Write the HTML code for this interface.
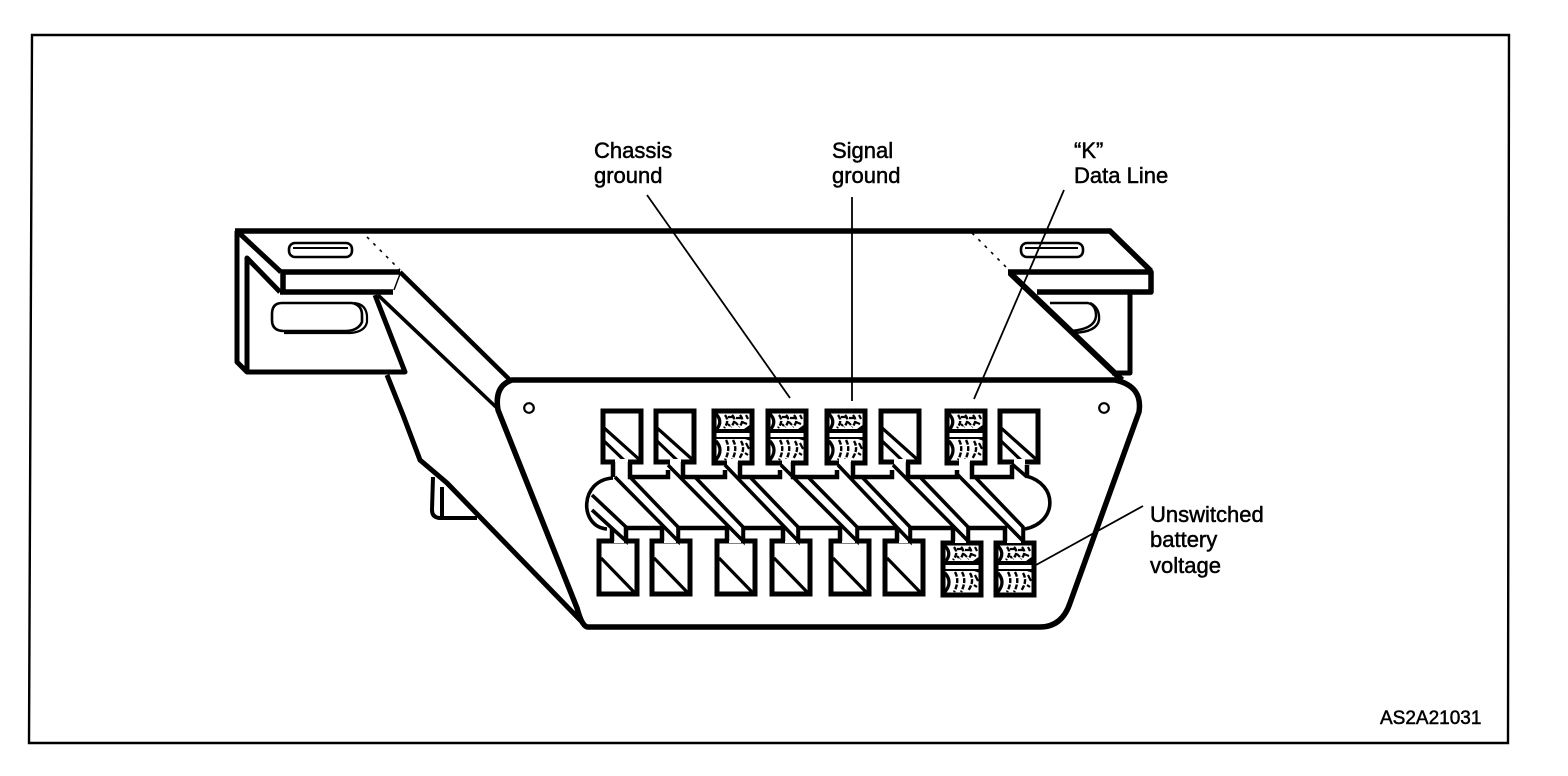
<!DOCTYPE html>
<html>
<head>
<meta charset="utf-8">
<style>
html,body{margin:0;padding:0;background:#fff}
svg{display:block}
text{font-family:"Liberation Sans",Arial,sans-serif;font-size:22px;fill:#000;stroke:#000;stroke-width:.5}
</style>
</head>
<body>
<svg width="1568" height="776" viewBox="0 0 1568 776" xmlns="http://www.w3.org/2000/svg">
<defs>
<g id="hatched">
  <rect x="2" y="2" width="38" height="52" fill="#fff" stroke="#000" stroke-width="5"/>
  <path d="M3,20H32L39,15V24H3ZM3,28H39V32L33,30H3Z" fill="#000"/>
  <path d="M4,5Q11,12 5,20M4,32Q12,41 4,51" fill="none" stroke="#000" stroke-width="3.2"/>
  <path d="M13,6Q18,12 12,19M20,6Q25,11 19,18M28,6Q33,12 27,18M14,31Q19,40 13,51M21,31Q26,40 20,51M29,32Q34,40 27,50" fill="none" stroke="#000" stroke-width="2.4" stroke-dasharray="5 1.5"/>
  <path d="M16,8H21M24,9H30M30,13L35,15M34,6L36,10M34,34L37,40M33,44L36,46M23,13L26,16M16,15L18,17" fill="none" stroke="#000" stroke-width="2.2"/>
</g>
<g id="plainTop">
  <rect x="2" y="2" width="38" height="51" fill="#fff" stroke="#000" stroke-width="5"/>
  <path d="M2,18L40,52M2,31L27,55" fill="none" stroke="#000" stroke-width="3.2"/>
</g>
<g id="plainBot">
  <rect x="2" y="2" width="38" height="53" fill="#fff" stroke="#000" stroke-width="5"/>
  <path d="M4,19L38,54" fill="none" stroke="#000" stroke-width="3.2"/>
</g>
</defs>

<!-- frame -->
<path d="M32,35H1509L1508,743H29Z" fill="none" stroke="#000" stroke-width="2.4"/>

<!-- left bracket -->
<g fill="none" stroke="#000" stroke-linejoin="round">
  <path d="M237,231V362L247,372H405L375,295" stroke-width="5" fill="#fff"/>
  <path d="M247,372V258L280,292" stroke-width="5"/>
  <path d="M238,232L281,272" stroke-width="5"/>
  <rect x="289" y="243" width="63" height="14" rx="6" stroke-width="2.6"/>
  <path d="M293,248H348" stroke-width="2"/>
  <path d="M282,303H352Q362,305 362,315V322Q358,331 345,331H284Q272,331 272,320V314Q272,303 282,303Z" stroke-width="2.6"/>
  <path d="M354,303Q366,304 367,316V322Q365,332 350,333H284" stroke-width="2.2"/>
</g>
<!-- body left outline -->
<path d="M387,375L403,415L420,460L447,483L583,623" fill="none" stroke="#000" stroke-width="5"/>
<path d="M433,477L432,510Q432,517 439,518H477M442,487V517" fill="none" stroke="#000" stroke-width="4"/>
<!-- top plate and long lines -->
<path d="M235,231H1110L1151,271" fill="none" stroke="#000" stroke-width="5.5"/>
<path d="M378,295L497,408" fill="none" stroke="#000" stroke-width="3.6"/>
<path d="M400,272L510,380" fill="none" stroke="#000" stroke-width="4.5"/>
<path d="M281,272H400M283,272V291M280,292H393" fill="none" stroke="#000" stroke-width="5.5"/>
<path d="M400,274L394,290" fill="none" stroke="#000" stroke-width="1.5"/>
<path d="M367,237L400,270" fill="none" stroke="#000" stroke-width="1.6" stroke-dasharray="3 6"/>
<path d="M972,233L1007,268" fill="none" stroke="#000" stroke-width="1.6" stroke-dasharray="3 6"/>

<!-- right bracket -->
<g fill="none" stroke="#000" stroke-linejoin="round">
  <rect x="1021" y="243" width="62" height="14" rx="6" stroke-width="2.6"/>
  <path d="M1025,248H1078" stroke-width="2"/>
  <path d="M1050,303H1088Q1096,305 1096,316Q1095,329 1071,331" stroke-width="2.4"/>
  <path d="M1090,303Q1100,308 1099,320Q1097,332 1073,333" stroke-width="2.4"/>
  <path d="M1008,272H1151V292H1037" stroke-width="5.5"/>
  <path d="M1130,293V373H1112" stroke-width="5"/>
  <path d="M1010,273L1122,380" stroke-width="6"/>
</g>

<!-- front face -->
<path d="M512,380H1115Q1143,386 1139,412L1070,603Q1062,627 1040,627H588Q582,627 577,608L498,410Q494,386 512,380Z" fill="#fff" stroke="#000" stroke-width="5.5" stroke-linejoin="round"/>
<circle cx="529" cy="408" r="4.8" fill="#fff" stroke="#000" stroke-width="2.2"/>
<circle cx="1104" cy="408" r="4.8" fill="#fff" stroke="#000" stroke-width="2.2"/>

<!-- top sockets -->
<use href="#plainTop" x="601" y="409"/>
<use href="#plainTop" x="654" y="409"/>
<use href="#hatched" x="712" y="409"/>
<use href="#hatched" x="766" y="409"/>
<use href="#hatched" x="825" y="409"/>
<use href="#plainTop" x="879" y="409"/>
<use href="#hatched" x="945" y="409"/>
<use href="#plainTop" x="998" y="409"/>
<!-- bottom sockets -->
<use href="#plainBot" x="597" y="539"/>
<use href="#plainBot" x="650" y="539"/>
<use href="#plainBot" x="715" y="539"/>
<use href="#plainBot" x="770" y="539"/>
<use href="#plainBot" x="829" y="539"/>
<use href="#plainBot" x="883" y="539"/>
<use href="#hatched" x="941" y="541"/>
<use href="#hatched" x="994" y="541"/>

<!-- channel -->
<g fill="none" stroke="#000">
  <!-- socket openings at necks -->
  <g fill="#fff" stroke="none">
    <rect x="615" y="459" width="13" height="18"/>
    <rect x="670" y="459" width="11" height="18"/>
    <rect x="727" y="459" width="11" height="18"/>
    <rect x="782" y="459" width="9" height="18"/>
    <rect x="839" y="459" width="12" height="18"/>
    <rect x="894" y="459" width="12" height="18"/>
    <rect x="959" y="459" width="11" height="18"/>
    <rect x="1014" y="459" width="11" height="18"/>
    <rect x="614" y="528" width="10" height="15"/>
    <rect x="664" y="528" width="12" height="15"/>
    <rect x="729" y="528" width="12" height="15"/>
    <rect x="785" y="528" width="11" height="15"/>
    <rect x="842" y="528" width="13" height="15"/>
    <rect x="899" y="528" width="9" height="15"/>
    <rect x="955" y="528" width="11" height="15"/>
    <rect x="1007" y="528" width="14" height="15"/>
  </g>
  <!-- rounded ends -->
  <path d="M613,478C579,480 579,527 607,529" stroke-width="3.6"/>
  <path d="M1026,476C1058,484 1058,522 1025,529" stroke-width="3.6"/>
  <!-- lower rail -->
  <path d="M612,541V528M626,541V528H662V541M678,541V528H727V541M743,541V528H783V541M798,541V528H840V541M857,541V528H897V541M910,541V528H953V541M968,541V528H1005V541M1023,541V528" stroke-width="4.5"/>
  <!-- blades -->
  <g stroke-width="3.6" fill="#fff">
    <path d="M592,510L626,541V527L592,495" fill="none"/>
    <path d="M615,477L678,541V527L630,477"/>
    <path d="M668,465L743,541V527L695,477"/>
    <path d="M725,465L798,541V527L750,477"/>
    <path d="M781,465L857,541V527L808,477"/>
    <path d="M838,465L910,541V527L862,477"/>
    <path d="M893,465L968,541V527L920,477"/>
    <path d="M958,475L1023,541V527L975,477"/>
    <path d="M1012,464L1027,477" fill="none"/>
  </g>
  <!-- top rail -->
  <path d="M613,462V477M630,462V477H668V470M683,462V477H725V470M740,462V477H780V470M793,462V477H837V470M853,462V477H892V470M908,462V477H957V470M972,462V477H1012V465M1027,465V477" stroke-width="4.5"/>
</g>

<!-- leaders -->
<g fill="none" stroke="#000" stroke-width="1.8">
  <path d="M647,195L790,398"/>
  <path d="M852,197V401"/>
  <path d="M1064,190L974,399"/>
  <path d="M1143,506L1036,565"/>
</g>

<!-- labels -->
<text x="594" y="158">Chassis</text>
<text x="594" y="183">ground</text>
<text x="832" y="158">Signal</text>
<text x="832" y="183">ground</text>
<text x="1074" y="158">“K”</text>
<text x="1074" y="183">Data Line</text>
<text x="1150" y="522">Unswitched</text>
<text x="1150" y="547">battery</text>
<text x="1150" y="573">voltage</text>
<text x="1380" y="724" style="font-size:19px">AS2A21031</text>
</svg>
</body>
</html>
